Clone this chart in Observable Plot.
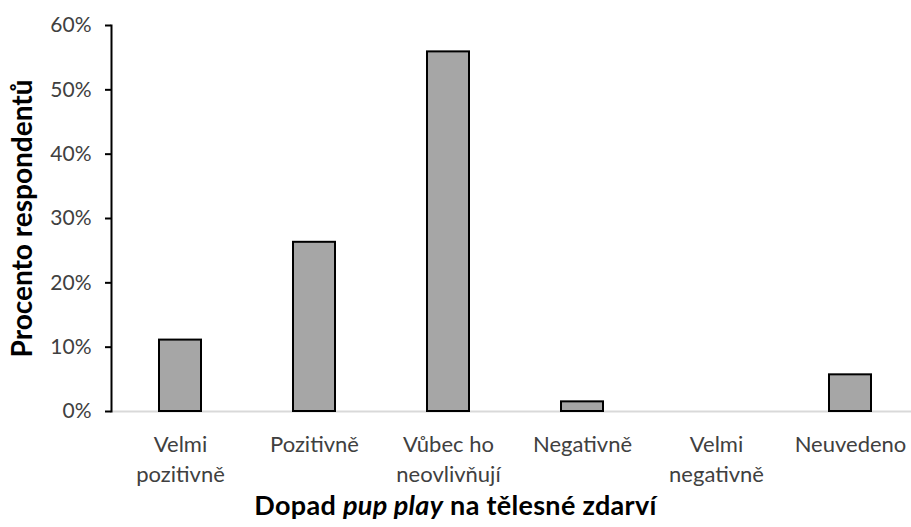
<!DOCTYPE html>
<html><head><meta charset="utf-8">
<script src="https://cdn.jsdelivr.net/npm/d3@7"></script>
<script src="https://cdn.jsdelivr.net/npm/@observablehq/plot@0.6"></script>
<style>
body{margin:0;background:#fff;font-family:Lato,sans-serif;}
#chart svg{display:block;}
#cap{width:911px;height:35px;line-height:26px;text-align:center;font-weight:bold;font-size:27px;color:#000;font-family:Lato,sans-serif;letter-spacing:0.3px;}
</style></head><body><div id="chart"></div><script>
const categories = ["Velmi\npozitivně", "Pozitivně", "Vůbec ho\nneovlivňují", "Negativně", "Velmi\nnegativně", "Neuvedeno"];
const values = [11.1, 26.3, 55.9, 1.5, 0, 5.7];
const yTicks = [0, 10, 20, 30, 40, 50, 60];
const yLabel = "Procento respondentů";
const xTitleParts = ["Dopad ", "pup play", " na tělesné zdarví"];

const data = categories.map((c, i) => ({category: c, value: values[i]}));

const plot = Plot.plot({
  width: 911, height: 492,
  marginLeft: 111, marginRight: 0, marginTop: 25, marginBottom: 81,
  style: {fontFamily: "Lato, sans-serif", background: "#fff", color: "#000"},
  x: {domain: categories, range: [111, 918], paddingInner: 0.69, paddingOuter: 0.345, label: null},
  y: {domain: [0, 60], label: null},
  marks: [
    Plot.ruleY([0], {stroke: "#d9d9d9", strokeWidth: 2}),
    Plot.barY(data, {x: "category", y: "value", fill: "#a6a6a6", stroke: "#000", strokeWidth: 2, filter: d => d.value > 0}),
    Plot.axisY({ticks: yTicks, tickFormat: d => d + "%", tickSize: 6, tickPadding: 14, fontSize: 21, fill: "#404040", strokeWidth: 2, label: null}),
    Plot.frame({anchor: "left", stroke: "#000", strokeWidth: 2}),
    Plot.axisX({tickSize: 0, tickPadding: 19, fontSize: 22, fill: "#404040", lineHeight: 1.38, label: null}),
    Plot.text([yLabel], {frameAnchor: "left", textAnchor: "middle", rotate: -90, dx: -88, fontSize: 28, fontWeight: "bold", fill: "#000"})
  ]
});
const chart = document.getElementById("chart");
chart.appendChild(plot);
const cap = document.createElement("div");
cap.id = "cap";
xTitleParts.forEach((t, i) => {
  const s = document.createElement(i === 1 ? "i" : "span");
  s.textContent = t;
  cap.appendChild(s);
});
chart.appendChild(cap);
</script></body></html>
